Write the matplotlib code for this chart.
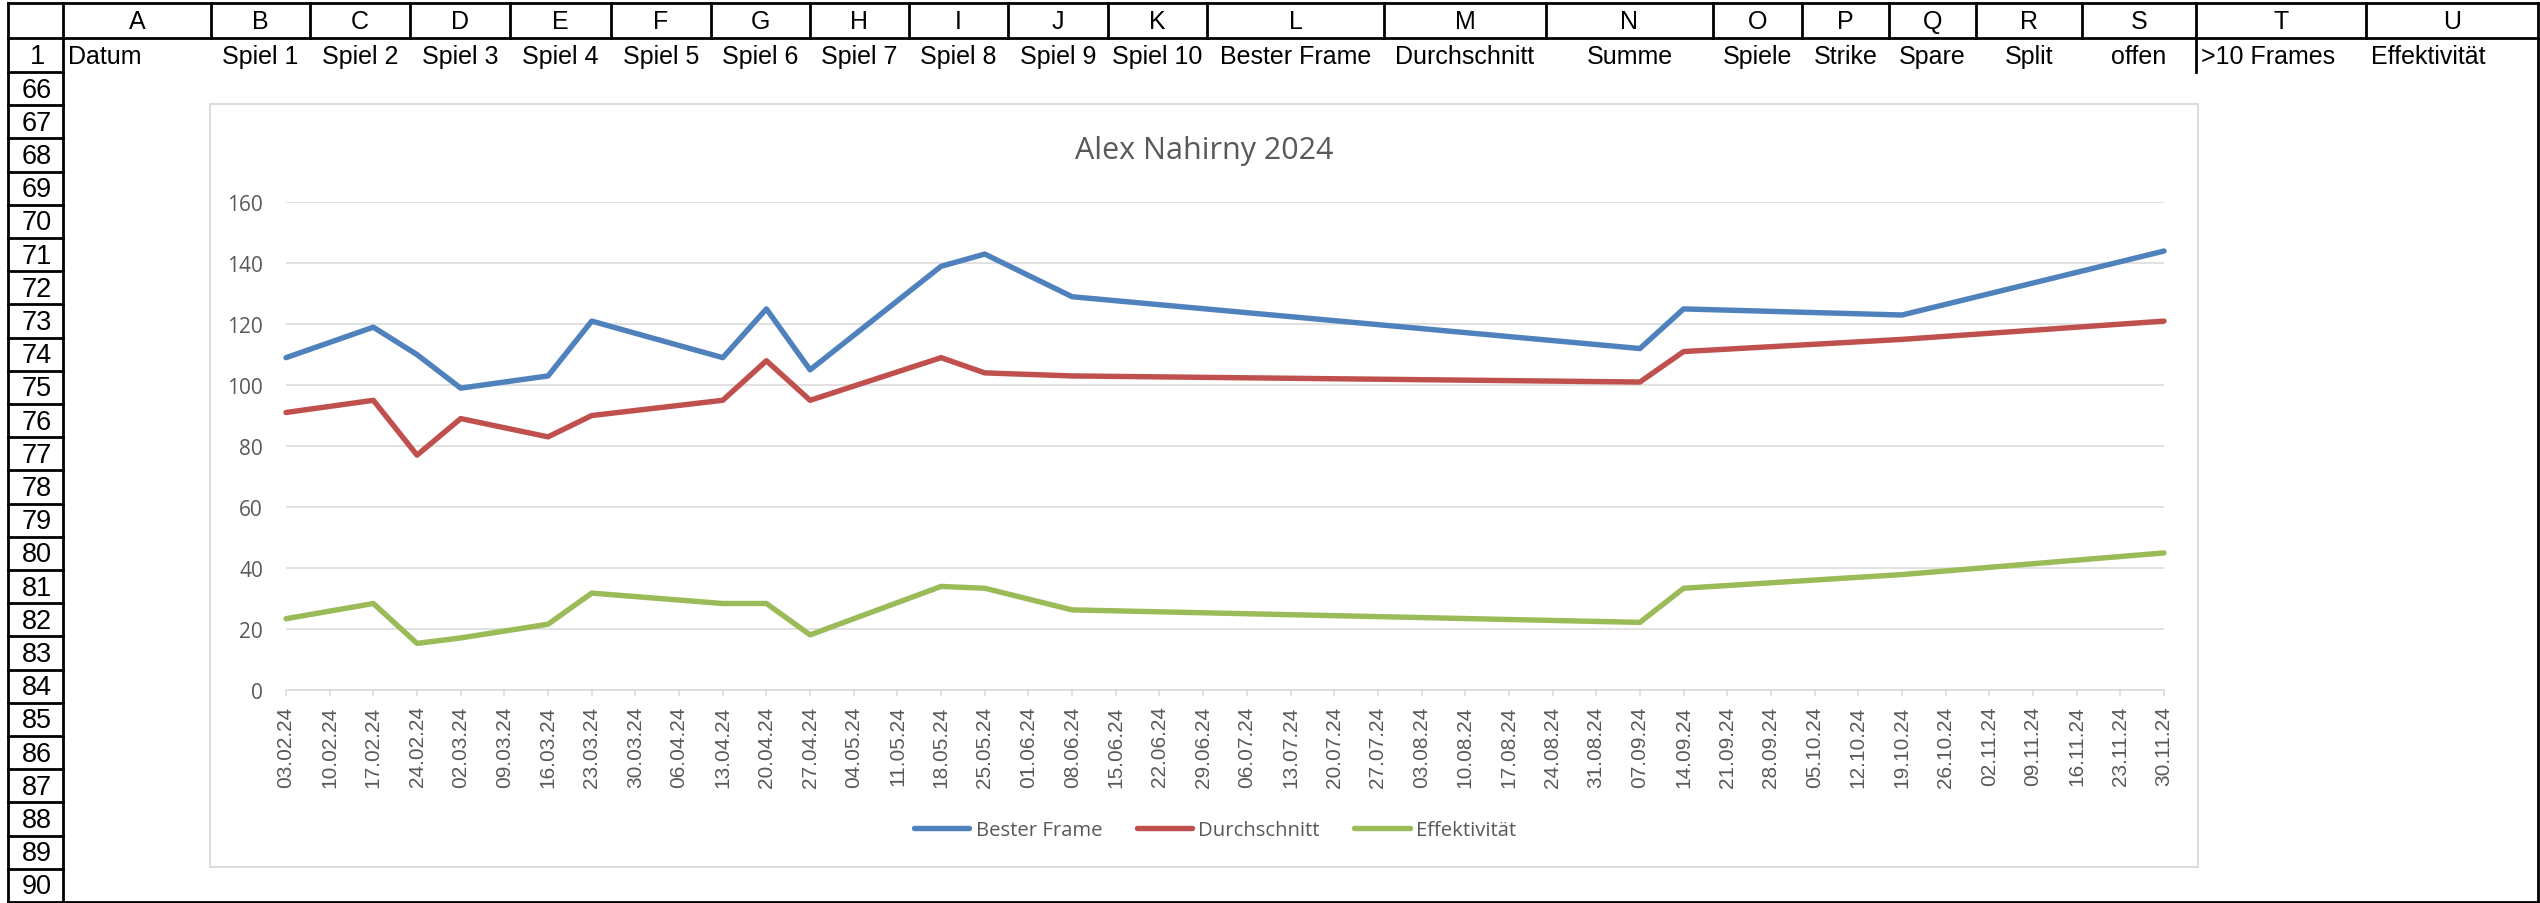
import matplotlib
matplotlib.use("Agg")
import matplotlib.pyplot as plt
from matplotlib.patches import Rectangle
import pandas as pd

# chart data
dates = pd.to_datetime(["03.02.24", "17.02.24", "24.02.24", "02.03.24", "16.03.24", "23.03.24",
                        "13.04.24", "20.04.24", "27.04.24", "18.05.24", "25.05.24", "08.06.24",
                        "07.09.24", "14.09.24", "19.10.24", "30.11.24"], format="%d.%m.%y")
bester_frame = [109, 119, 110, 99, 103, 121, 109, 125, 105, 139, 143, 129, 112, 125, 123, 144]
durchschnitt = [91, 95, 77, 89, 83, 90, 95, 108, 95, 109, 104, 103, 101, 111, 115, 121]
effektivitaet = [23.3, 28.3, 15.2, 17.0, 21.5, 31.7, 28.3, 28.3, 18.0, 33.9, 33.3, 26.2, 22.1, 33.3, 37.8, 44.9]
series_names = ["Bester Frame", "Durchschnitt", "Effektivität"]
title = "Alex Nahirny 2024"

# sheet content
col_letters = list("ABCDEFGHIJKLMNOPQRSTU")
row1_labels = ["Datum"] + ["Spiel %d" % i for i in range(1, 11)] + \
    ["Bester Frame", "Durchschnitt", "Summe", "Spiele", "Strike", "Spare", "Split", "offen",
     ">10 Frames", "Effektivität"]
row_numbers = [1] + list(range(66, 91))

# layout in pixels
W, H = 2540, 904
col_edges = [63, 211, 310, 410, 510, 611, 711, 810, 909, 1008, 1108, 1207, 1384, 1546,
             1713, 1802, 1889, 1976, 2082, 2196, 2366, 2538]
left_aligned = {"A", "T", "U"}
row_edges = [39, 73] + [73 + 33.2 * (i + 1) for i in range(25)]
top = 3.5
bottom = 902.5
grey = "#595959"
light = "#D9D9D9"
colors = ["#4F81BD", "#C0504D", "#9BBB59"]

fig = plt.figure(figsize=(W / 100, H / 100), dpi=100)
bg = fig.add_axes([0, 0, 1, 1])
bg.set_xlim(0, W)
bg.set_ylim(H, 0)
bg.axis("off")

kw = dict(color="black", lw=2.0, solid_capstyle="projecting")
bg.plot([8, col_edges[-1]], [top, top], **kw)
bg.plot([8, col_edges[-1]], [39, 39], **kw)
bg.plot([8, col_edges[-1]], [bottom, bottom], **kw)
bg.plot([8, 8], [top, bottom], **kw)
bg.plot([col_edges[0], col_edges[0]], [top, bottom], **kw)
bg.plot([col_edges[-1], col_edges[-1]], [top, bottom], **kw)
for x in col_edges[1:-1]:
    bg.plot([x, x], [top, 39], **kw)
for y in row_edges[1:-1]:
    bg.plot([8, col_edges[0]], [y, y], **kw)
bg.plot([2196, 2196], [39, 73], **kw)

sheet_font = dict(family=["Liberation Sans", "DejaVu Sans"], color="black")
for i, letter in enumerate(col_letters):
    cx = (col_edges[i] + col_edges[i + 1]) / 2
    bg.text(cx, 22, letter, ha="center", va="center", fontsize=18, **sheet_font)
    if letter in left_aligned:
        bg.text(col_edges[i] + 5, 57, row1_labels[i], ha="left", va="center", fontsize=18, **sheet_font)
    else:
        bg.text(cx, 57, row1_labels[i], ha="center", va="center", fontsize=18, **sheet_font)

for n, y0, y1 in zip(row_numbers, [39] + row_edges[1:], row_edges[1:] + [bottom]):
    bg.text(37, (y0 + y1) / 2 + 1, str(n), ha="center", va="center", fontsize=19.5, **sheet_font)

# chart frame and title
bg.add_patch(Rectangle((210, 105), 1988, 763, facecolor="white", edgecolor=light, lw=1.3))
bg.text(1204, 159, title, ha="center", va="baseline", fontsize=22, color=grey, family="Open Sans")

ax = fig.add_axes([286 / W, 1 - 690.7 / H, (2164 - 286) / W, (690.7 - 203.3) / H])
ax.patch.set_alpha(0)
for vals, name, c in zip([bester_frame, durchschnitt, effektivitaet], series_names, colors):
    ax.plot(dates, vals, color=c, lw=3.9, label=name, solid_joinstyle="round",
            solid_capstyle="round", clip_on=False, zorder=3)

ax.set_xlim(dates[0], dates[-1])
ax.set_ylim(0, 160)
ax.set_yticks(range(0, 161, 20))
ax.yaxis.grid(True, color=light, lw=1.1)
ax.set_axisbelow(True)

ticks = pd.date_range(dates[0], dates[-1], freq="7D")
ax.set_xticks(ticks)
ax.set_xticklabels([d.strftime("%d.%m.%y") for d in ticks], rotation=90, fontsize=15,
                   color=grey, family="Liberation Sans")
ax.tick_params(axis="x", length=4.3, color=light, width=1.1, pad=7)
ax.tick_params(axis="y", length=0, pad=16.5, labelsize=15, labelcolor=grey)
for lbl in ax.get_yticklabels():
    lbl.set_family("Open Sans")
for s in ["left", "top", "right"]:
    ax.spines[s].set_visible(False)
ax.spines["bottom"].set_color(light)
ax.spines["bottom"].set_linewidth(1.1)

handles, labels = ax.get_legend_handles_labels()
fig.legend(handles, labels, loc="center", bbox_to_anchor=(1215 / W, 1 - 830.7 / H), ncol=3,
           frameon=False, prop={"family": "Open Sans", "size": 14.6}, handlelength=2.75,
           handletextpad=0.3, columnspacing=1.7, labelcolor=grey)

fig.savefig("out.png", dpi=100)
